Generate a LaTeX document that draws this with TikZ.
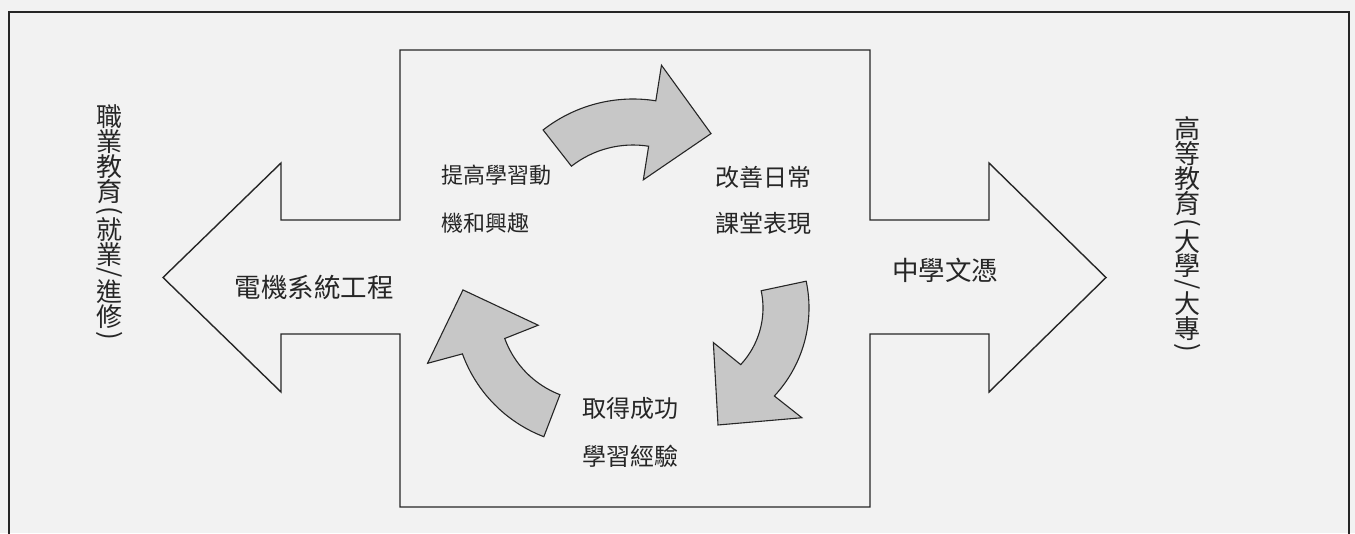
\documentclass[tikz,border=0pt]{standalone}
\usepackage{fontspec}
\setmainfont{Noto Sans CJK TC}
\usepackage{graphicx}
\usetikzlibrary{calc}
\newcommand\vch[1]{\hbox to 26pt{\hss\vbox to 25pt{\vss\hbox{#1}\vss}\hss}}
\newcommand\vpar[1]{\hbox to 26pt{\hss\vbox to 12.5pt{\vss\hbox{\rotatebox{-90}{#1}}\vss}\hss}}
\tikzset{
  frameline/.style={line width=1.8pt, draw=black!85},
  crossline/.style={line width=1.4pt, draw=black!85, line join=miter},
  bend arrow/.style={line width=1.1pt, draw=black!85, fill=black!22, line join=miter},
  biglab/.style={inner sep=0pt, text=black!85, font=\fontsize{26.5}{30}\selectfont},
  midlab/.style={inner sep=0pt, text=black!85, font=\fontsize{22}{26}\selectfont},
  midlabb/.style={inner sep=0pt, text=black!85, font=\fontsize{24}{28}\selectfont},
  vlab/.style={inner sep=0pt, text=black!85, font=\fontsize{26}{30}\selectfont},
}
\begin{document}
\begin{tikzpicture}[x=1pt,y=-1pt]
\useasboundingbox (0,0) rectangle (1355,533);
\fill[black!5] (0,0) rectangle (1355,533);
\begin{scope}
  \clip (0,0) rectangle (1355,533);
  \draw[frameline] (9,12) rectangle (1349,560);
\end{scope}
% central square with two arrows
\draw[crossline] (400,50) -- (870,50) -- (870,220) -- (989,220) -- (989,163)
  -- (1106,277.5) -- (989,392) -- (989,334) -- (870,334) -- (870,507)
  -- (400,507) -- (400,334) -- (281,334) -- (281,392) -- (163,277.5)
  -- (281,163) -- (281,220) -- (400,220) -- cycle;
% centres of the curved arrows
\coordinate (ca) at (633,245);
\coordinate (cb) at (680,308);
\coordinate (cc) at (594,306);
% curved arrows
\draw[bend arrow] ($(ca)+(-128:146)$) arc[start angle=-128, end angle=-81, radius=146]
  -- ($(ca)+(-81:182)$) -- ($(ca)+(-55:136)$) -- ($(ca)+(-81:66)$)
  -- ($(ca)+(-81:100)$) arc[start angle=-81, end angle=-128, radius=100] -- cycle;
\draw[bend arrow] ($(cb)+(-12:129)$) arc[start angle=-12, end angle=43, radius=129]
  -- ($(cb)+(42:164)$) -- ($(cb)+(72:123)$) -- ($(cb)+(46:48)$)
  -- ($(cb)+(43:83)$) arc[start angle=43, end angle=-12, radius=83] -- cycle;
\draw[bend arrow] ($(cc)+(111:140)$) arc[start angle=111, end angle=160, radius=140]
  -- ($(cc)+(161:176)$) -- ($(cc)+(187:132)$) -- ($(cc)+(161:59)$)
  -- ($(cc)+(160:95)$) arc[start angle=160, end angle=111, radius=95] -- cycle;
% labels
\node[midlab, anchor=west] (motiv1) at (441,175) {提高學習動};
\node[midlab, anchor=west] (motiv2) at (441,223) {機和興趣};
\node[midlabb, anchor=west] (perf1) at (715,177) {改善日常};
\node[midlabb, anchor=west] (perf2) at (715,223.5) {課堂表現};
\node[midlabb] (succ1) at (630,408) {取得成功};
\node[midlabb] (succ2) at (630,456.5) {學習經驗};
\node[biglab] (eng) at (314,287) {電機系統工程};
\node[biglab] (dse) at (945,270) {中學文憑};
\node[vlab, anchor=north] (voc) at (109.5,104) {\vbox{\offinterlineskip
  \vch{職}\vch{業}\vch{教}\vch{育}\vpar{(}\vch{就}\vch{業}\vpar{/}\vch{進}\vch{修}\vpar{)}}};
\node[vlab, anchor=north] (higher) at (1187.5,116) {\vbox{\offinterlineskip
  \vch{高}\vch{等}\vch{教}\vch{育}\vpar{(}\vch{大}\vch{學}\vpar{/}\vch{大}\vch{專}\vpar{)}}};
\end{tikzpicture}
\end{document}
